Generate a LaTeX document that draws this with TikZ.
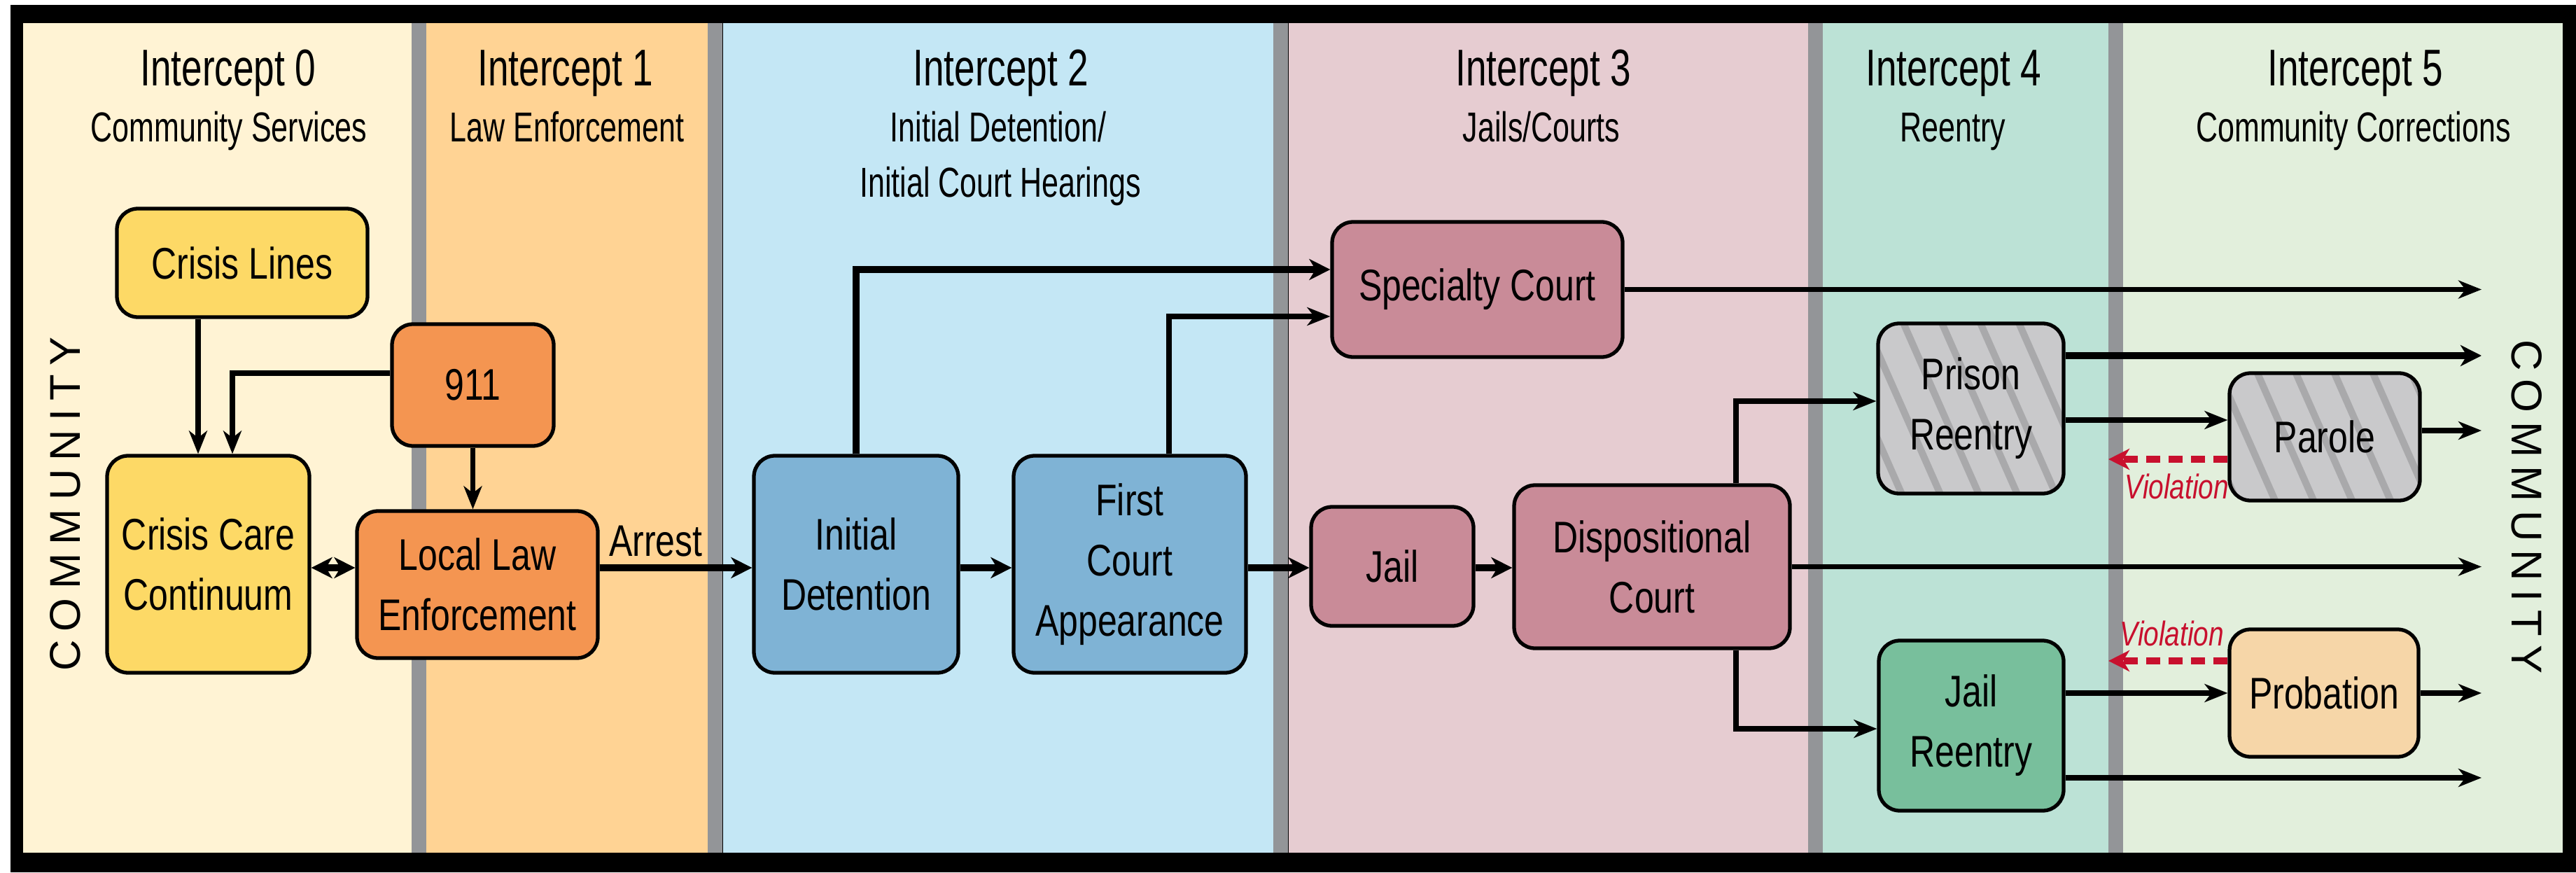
\documentclass[tikz,border=0pt]{standalone}
\usepackage{fontspec}
\setmainfont{Liberation Sans}[FakeStretch=0.79]
\newfontfamily\headfont{Liberation Sans}[FakeStretch=0.72]
\newfontfamily\commfont{Liberation Sans}[LetterSpace=20]
\usetikzlibrary{arrows.meta}

\definecolor{zone0}{HTML}{FFF3D4}
\definecolor{zone1}{HTML}{FFD394}
\definecolor{zone2}{HTML}{C4E7F5}
\definecolor{zone3}{HTML}{E6CCD1}
\definecolor{zone4}{HTML}{BCE2D6}
\definecolor{zone5}{HTML}{E2EFDC}
\definecolor{bar}{HTML}{939598}
\definecolor{yel}{HTML}{FDD966}
\definecolor{org}{HTML}{F49551}
\definecolor{blu}{HTML}{7FB3D5}
\definecolor{pnk}{HTML}{C98B98}
\definecolor{grn}{HTML}{78BF9C}
\definecolor{pch}{HTML}{F6D6A8}
\definecolor{gry}{HTML}{C9C9CB}
\definecolor{stripe}{HTML}{A9A9AB}
\definecolor{violred}{HTML}{C8102E}

\begin{document}
\begin{tikzpicture}
    \tikzset{
        box/.style={draw=black, line width=1.5pt, rounded corners=0.3cm, inner sep=0pt,
            align=center, text=black, font=\fontsize{18}{24.5}\selectfont},
        hatch/.style={fill=gry, path picture={
            \foreach \k in {-7,...,7}
                \draw[stripe, line width=0.1cm] ([xshift=\k*0.55cm]path picture bounding box.north) ++(-0.5,0.2) -- ++(1.5,-3.4);}},
        arr/.style={line width=2.1pt, -{Stealth[length=3.3mm,width=2.6mm,inset=1mm]}},
        fat/.style={line width=2.9pt, -{Stealth[length=3mm,width=3mm,inset=0.9mm]}},
        dbl/.style={line width=2.9pt, {Stealth[length=3mm,width=3mm,inset=0.9mm]}-{Stealth[length=3mm,width=3mm,inset=0.9mm]}},
        viol/.style={violred, line width=2.8pt, dash pattern=on 0.2cm off 0.12cm,
            -{Stealth[length=3mm,width=3mm,inset=0.9mm]}},
        head/.style={anchor=base, font=\headfont\fontsize{21}{25}\selectfont},
        sub/.style={anchor=base, font=\headfont\fontsize{17}{21}\selectfont},
        comm/.style={font=\commfont\fontsize{17.5}{20}\selectfont},
        vtext/.style={text=violred, font=\itshape\fontsize{14}{16}\selectfont}
    }
    \useasboundingbox (0,0) rectangle (36.8,12.46);
    \fill[black] (0.15,0) rectangle (36.8,12.39);
    \foreach \a/\b/\c in {0.33/5.88/zone0, 6.09/10.11/zone1, 10.33/18.19/zone2,
        18.41/25.83/zone3, 26.03/30.12/zone4, 30.33/36.61/zone5}
        \fill[\c] (\a,0.28) rectangle (\b,12.13);
    \foreach \a in {5.88,10.11,18.19,25.83,30.12}
        \fill[bar] (\a,0.28) rectangle ++(0.21,11.85);
    %
    \node[head] (t0) at (3.26,11.23) {Intercept 0};
    \node[sub] (s0) at (3.27,10.43) {Community Services};
    \node[head] (t1) at (8.08,11.23) {Intercept 1};
    \node[sub] (s1) at (8.10,10.43) {Law Enforcement};
    \node[head] (t2) at (14.30,11.23) {Intercept 2};
    \node[sub] (s2) at (14.26,10.43) {Initial Detention/};
    \node[sub] (s2b) at (14.29,9.64) {Initial Court Hearings};
    \node[head] (t3) at (22.05,11.23) {Intercept 3};
    \node[sub] (s3) at (22.02,10.43) {Jails/Courts};
    \node[head] (t4) at (27.91,11.23) {Intercept 4};
    \node[sub] (s4) at (27.90,10.43) {Reentry};
    \node[head] (t5) at (33.65,11.23) {Intercept 5};
    \node[sub] (s5) at (33.62,10.43) {Community Corrections};

    \node[comm, rotate=90] (cml) at (0.93,5.26) {COMMUNITY};
    \node[comm, rotate=-90] (cmr) at (36.10,5.22) {COMMUNITY};

    \node[box, fill=yel, minimum width=3.58cm, minimum height=1.55cm] (cl) at (3.46,8.705) {Crisis Lines};
    \node[box, fill=org, minimum width=2.31cm, minimum height=1.74cm] (n911) at (6.755,6.96) {911};
    \node[box, fill=yel, minimum width=2.89cm, minimum height=3.10cm] (ccc) at (2.975,4.40) {Crisis Care\\Continuum};
    \node[box, fill=org, minimum width=3.44cm, minimum height=2.10cm] (lle) at (6.82,4.11) {Local Law\\Enforcement};
    \node[box, fill=blu, minimum width=2.92cm, minimum height=3.10cm] (idet) at (12.23,4.40) {Initial\\Detention};
    \node[box, fill=blu, minimum width=3.32cm, minimum height=3.10cm] (fca) at (16.14,4.40) {First\\Court\\Appearance};
    \node[box, fill=pnk, minimum width=4.15cm, minimum height=1.93cm] (spc) at (21.105,8.325) {Specialty Court};
    \node[box, fill=pnk, minimum width=2.32cm, minimum height=1.70cm] (jail) at (19.89,4.37) {Jail};
    \node[box, fill=pnk, minimum width=3.94cm, minimum height=2.33cm] (disp) at (23.60,4.365) {Dispositional\\Court};
    \node[box, hatch, minimum width=2.65cm, minimum height=2.43cm] (pre) at (28.155,6.625) {Prison\\Reentry};
    \node[box, hatch, minimum width=2.72cm, minimum height=1.82cm] (par) at (33.21,6.22) {Parole};
    \node[box, fill=grn, minimum width=2.64cm, minimum height=2.43cm] (jre) at (28.16,2.095) {Jail\\Reentry};
    \node[box, fill=pch, minimum width=2.70cm, minimum height=1.82cm] (prob) at (33.20,2.56) {Probation};

    \coordinate (row) at (0,4.35);
    \coordinate (k1) at (2.83,0);
    \coordinate (k2) at (3.32,7.13);
    \coordinate (k4) at (12.23,8.61);
    \coordinate (k5) at (16.70,7.94);
    \coordinate (k6) at (24.80,6.73);
    \coordinate (k7) at (24.80,2.05);
    \coordinate (k8) at (0,7.38);
    \coordinate (k9) at (0,6.46);
    \coordinate (k10) at (0,6.31);
    \coordinate (k11) at (30.12,5.90);
    \coordinate (k12) at (30.12,3.02);
    \coordinate (k13) at (0,1.35);
    \coordinate (out) at (35.45,0);
    %
    \draw[arr] (cl.south -| k1) -- (ccc.north -| k1);
    \draw[arr] (n911.west |- k2) -- (k2) -- (ccc.north -| k2);
    \draw[arr] (n911.south) -- (n911.south |- lle.north);
    \draw[dbl] (ccc.east |- row) -- (lle.west |- row);
    \draw[fat] (lle.east |- row) -- (idet.west |- row);
    \node[anchor=base, font=\fontsize{18}{20}\selectfont] (arrest) at (9.37,4.52) {Arrest};
    \draw[fat] (idet.north) |- (spc.west |- k4);
    \draw[arr] (fca.north -| k5) |- (spc.west |- k5);
    \draw[fat] (idet.east |- row) -- (fca.west |- row);
    \draw[fat] (fca.east |- row) -- (jail.west |- row);
    \draw[fat] (jail.east |- row) -- (disp.west |- row);
    \draw[arr] (spc.east) -- (spc.east -| out);
    \draw[arr] (disp.north -| k6) |- (pre.west |- k6);
    \draw[arr] (disp.east) -- (disp.east -| out);
    \draw[arr] (disp.south -| k7) |- (jre.west |- k7);
    \draw[fat] (pre.east |- k8) -- (out |- k8);
    \draw[arr] (pre.east |- k9) -- (par.west |- k9);
    \draw[arr] (par.east |- k10) -- (out |- k10);
    \draw[viol] (par.west |- k11) -- (k11);
    \node[vtext] (v1) at (31.10,5.51) {Violation};
    \draw[viol] (prob.west |- k12) -- (k12);
    \node[vtext] (v2) at (31.03,3.41) {Violation};
    \draw[arr] (jre.east |- prob) -- (prob.west);
    \draw[arr] (prob.east) -- (prob.east -| out);
    \draw[arr] (jre.east |- k13) -- (out |- k13);
\end{tikzpicture}
\end{document}
